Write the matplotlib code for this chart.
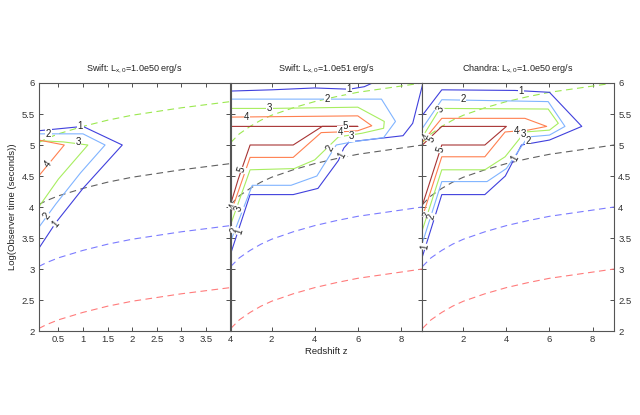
import matplotlib
matplotlib.use("Agg")
from matplotlib import pyplot as plt

plt.rcParams['font.family'] = ['Liberation Sans', 'DejaVu Sans']
plt.rcParams['mathtext.default'] = 'regular'

# dashed reference curves: rise above their base level
z_short = [0.1, 0.25, 0.5, 0.75, 1, 1.5, 2, 2.5, 3, 3.5, 4]
rise_short = [0.04, 0.10, 0.18, 0.24, 0.30, 0.40, 0.48, 0.54, 0.60, 0.65, 0.70]
z_long = [0.1, 0.5, 1, 1.5, 2, 3, 4, 5, 6, 7, 8, 9]
rise_long = [0.04, 0.18, 0.30, 0.40, 0.48, 0.60, 0.70, 0.78, 0.85, 0.90, 0.95, 1.0]
ref_levels = [2, 3, 4, 5]
ref_colors = ['#ff7b7b', '#7b7bff', '#606060', '#9be84f']

titles = ['Swift: L$_{x,0}$=1.0e50 erg/s',
          'Swift: L$_{x,0}$=1.0e51 erg/s',
          'Chandra: L$_{x,0}$=1.0e50 erg/s']

level_colors = {1: '#4040dd', 2: '#80b4ff', 3: '#a8ee60', 4: '#ff8050', 5: '#a83434'}

# contour lines (z, log t) per panel
swift50 = {
    1: [(0.1, 3.33), (0.45, 3.75), (1.0, 4.3), (1.8, 5.0), (1.0, 5.3), (0.1, 5.23)],
    2: [(0.1, 3.67), (0.45, 4.05), (0.95, 4.55), (1.45, 5.0), (1.0, 5.18), (0.1, 5.18)],
    3: [(0.1, 4.0), (0.5, 4.45), (1.1, 5.0), (0.6, 5.05), (0.1, 5.07)],
    4: [(0.1, 4.5), (0.62, 5.0), (0.1, 5.08)],
}
swift51 = {
    1: [(0.1, 5.87), (2, 5.89), (4, 5.92), (5.6, 5.9), (6.3, 5.94), (7.0, 6.05), (9.1, 6.1),
        (8.55, 5.35), (8.1, 5.15), (5.6, 5.05), (5.35, 4.95), (5.1, 4.75), (4.15, 4.3),
        (3.0, 4.2), (1.0, 4.2), (0.1, 3.25)],
    2: [(0.1, 5.74), (4.6, 5.74), (7.1, 5.74), (7.75, 5.38), (7.2, 5.12), (5.75, 5.05),
        (5.0, 5.0), (4.1, 4.5), (2.9, 4.35), (1.1, 4.35), (0.1, 3.45)],
    3: [(0.1, 5.59), (2, 5.59), (6.0, 5.61), (7.23, 5.38), (7.2, 5.27), (6.2, 5.19),
        (5.1, 5.13), (4.0, 4.76), (3.05, 4.62), (1.0, 4.6), (0.1, 3.72)],
    4: [(0.1, 5.45), (6.0, 5.47), (6.65, 5.31), (6.0, 5.23), (5.1, 5.21), (4.3, 5.2),
        (3.0, 4.8), (1.0, 4.8), (0.1, 3.9)],
    5: [(0.1, 5.30), (6.0, 5.30), (4.35, 5.30), (3.0, 5.0), (1.0, 5.0), (0.45, 4.45),
        (0.1, 4.05)],
}
chandra50 = {
    1: [(0.1, 5.48), (1.0, 5.89), (4.4, 5.88), (6.0, 5.85), (7.5, 5.3), (6.0, 5.08),
        (4.7, 5.0), (3.95, 4.5), (3.0, 4.2), (1.0, 4.2), (0.1, 3.2)],
    2: [(0.1, 5.27), (1.0, 5.73), (5.94, 5.70), (6.72, 5.3), (6.0, 5.16), (5.0, 5.13),
        (4.0, 4.62), (3.1, 4.41), (1.0, 4.41), (0.1, 3.42)],
    3: [(0.1, 5.13), (0.92, 5.59), (5.94, 5.58), (6.41, 5.35), (6.0, 5.24), (4.86, 5.21),
        (3.94, 4.81), (3.0, 4.6), (1.0, 4.6), (0.1, 3.63)],
    4: [(0.1, 5.05), (1.0, 5.43), (4.86, 5.43), (5.87, 5.3), (5.0, 5.24), (3.94, 5.21),
        (3.0, 4.81), (1.0, 4.81), (0.1, 3.84)],
    5: [(0.1, 5.0), (1.0, 5.3), (4.0, 5.3), (3.0, 5.0), (1.0, 5.0), (0.1, 4.03)],
}
contours = [swift50, swift51, chandra50]

# inline contour labels: (z, log t, text, rotation)
labels = [
    [(0.95, 5.30, '1', 0), (0.3, 5.18, '2', 0), (0.9, 5.05, '3', 0),
     (0.3, 4.7, '4', 52), (0.27, 3.86, '2', 52), (0.45, 3.72, '1', 50)],
    [(5.6, 5.9, '1', 0), (4.6, 5.74, '2', 0), (1.9, 5.59, '3', 0), (0.85, 5.45, '4', 0),
     (5.44, 5.31, '5', 0), (5.2, 5.21, '4', 0), (5.72, 5.14, '3', 0),
     (4.74, 4.95, '2', 62), (5.28, 4.84, '1', 62), (0.6, 4.6, '5', 72),
     (0.25, 4.0, '4', 72), (0.45, 3.98, '3', 72), (0.3, 3.62, '2', 72), (0.5, 3.6, '1', 72)],
    [(4.68, 5.87, '1', 0), (2.0, 5.74, '2', 0), (0.92, 5.57, '3', 60), (4.45, 5.23, '4', 0),
     (4.8, 5.18, '3', 0), (5.0, 5.06, '2', 0), (4.4, 4.79, '1', 62),
     (0.92, 4.92, '5', 72), (0.3, 5.12, '4', 60), (0.5, 5.1, '5', 60),
     (0.35, 3.87, '3', 75), (0.5, 3.85, '2', 75), (0.22, 3.36, '1', 80)],
]

xlims = [(0.1, 4), (0.1, 9), (0.1, 9)]
xticks = [[0.5, 1, 1.5, 2, 2.5, 3, 3.5, 4], [2, 4, 6, 8], [2, 4, 6, 8]]
xticklabels = [['0.5', '1', '1.5', '2', '2.5', '3', '3.5', '4'],
               ['2', '4', '6', '8'], ['2', '4', '6', '8']]
yticks = [2, 2.5, 3, 3.5, 4, 4.5, 5, 5.5, 6]
ytick_labels = ['2', '2.5', '3', '3.5', '4', '4.5', '5', '5.5', '6']

fig = plt.figure(figsize=(6.4, 4.15), dpi=100)
lefts = [0.0605, 0.3605, 0.66]
axes = []
for i in range(3):
    ax = fig.add_axes([lefts[i], 0.2024, 0.2995, 0.5976])
    axes.append(ax)
    zz = z_short if i == 0 else z_long
    rr = rise_short if i == 0 else rise_long
    for base, col in zip(ref_levels, ref_colors):
        ax.plot(zz, [base + r for r in rr], linestyle=(0, (6, 4)), color=col, lw=0.8)
    for lev, pts in contours[i].items():
        ax.plot([p[0] for p in pts], [p[1] for p in pts], color=level_colors[lev], lw=0.8)
    for x, y, s, rot in labels[i]:
        ax.text(x, y, s, fontsize=7, rotation=rot, ha='center', va='center',
                color='#222222', zorder=5,
                bbox=dict(boxstyle='square,pad=0.05', fc='white', ec='none'))
    ax.set_xlim(*xlims[i])
    ax.set_ylim(2, 6)
    ax.set_xticks(xticks[i])
    ax.set_xticklabels(xticklabels[i])
    ax.set_yticks(yticks)
    ax.set_yticklabels(ytick_labels)
    ax.tick_params(direction='in', top=True, right=True, left=True, bottom=True,
                   labelsize=6.8, length=3, width=0.6, colors='#333333', pad=3)
    ax.tick_params(labelleft=(i == 0), labelright=(i == 2))
    for sp in ax.spines.values():
        sp.set_color('#555555')
        sp.set_linewidth(0.8)
    ax.set_title(titles[i], fontsize=6.5, pad=9, color='#222222')

axes[1].set_xlabel('Redshift z', fontsize=6.8, labelpad=2, color='#222222')
axes[0].set_ylabel('Log(Observer time (seconds))', fontsize=6.8, labelpad=3, color='#222222')

fig.savefig('out.png', dpi=100)
